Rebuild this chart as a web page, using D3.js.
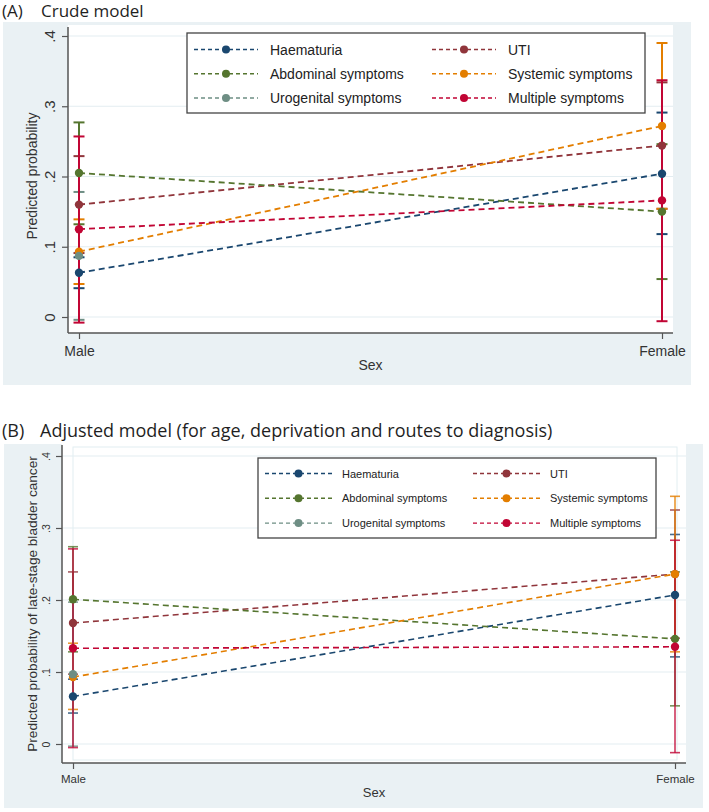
<!DOCTYPE html>
<html>
<head>
<meta charset="utf-8">
<script src="https://cdn.jsdelivr.net/npm/d3@7"></script>
<style>
  html, body { margin: 0; padding: 0; background: #ffffff; }
  svg { display: block; }
</style>
</head>
<body>
<svg id="chart" width="709" height="812"></svg>
<script>
// ---------------- DATA ----------------
const categories = ["Male", "Female"];
const seriesNames = ["Haematuria", "UTI", "Abdominal symptoms", "Systemic symptoms", "Urogenital symptoms", "Multiple symptoms"];
const yTicks = [0, 0.1, 0.2, 0.3, 0.4];
const yTickLabels = ["0", ".1", ".2", ".3", ".4"];

// Panel A: crude model  (per series: [Male, Female])
const crudeEst  = [[0.063, 0.204], [0.160, 0.244], [0.205, 0.150], [0.093, 0.272], [0.087, null], [0.125, 0.166]];
const crudeLow  = [[0.041, 0.118], [0.091, 0.154], [0.132, 0.054], [0.047, 0.154], [-0.004, null], [-0.008, -0.006]];
const crudeHigh = [[0.085, 0.291], [0.229, 0.334], [0.277, 0.246], [0.139, 0.390], [0.178, null], [0.257, 0.337]];

// Panel B: adjusted model
const adjEst  = [[0.066, 0.207], [0.168, 0.236], [0.201, 0.146], [0.093, 0.236], [0.097, null], [0.133, 0.135]];
const adjLow  = [[0.043, 0.121], [0.097, 0.147], [0.128, 0.053], [0.048, 0.128], [-0.003, null], [-0.005, -0.012]];
const adjHigh = [[0.090, 0.291], [0.239, 0.325], [0.274, 0.239], [0.140, 0.344], [0.197, null], [0.271, 0.283]];

const panelTitles = ["(A)", "(B)"];
const panelSubtitles = ["Crude model", "Adjusted model (for age, deprivation and routes to diagnosis)"];
const yTitles = ["Predicted probability", "Predicted probability of late-stage bladder cancer"];
const xTitle = "Sex";

// ---------------- STYLE ----------------
const colors = ["#1a476f", "#90353b", "#55752f", "#e37e00", "#6e8e84", "#c10534"];
const BG = "#eaf1f4";
const GRID = "#e3edf1";
const AXIS = "#555555";
const FONT = "'Liberation Sans', Arial, sans-serif";
const TITLE_FONT = "'Open Sans', sans-serif";

const svg = d3.select("#chart");

function drawPanel(cfg, est, low, high) {
  const g = svg.append("g");

  // backgrounds
  g.append("rect").attr("x", cfg.bg[0]).attr("y", cfg.bg[1]).attr("width", cfg.bg[2] - cfg.bg[0]).attr("height", cfg.bg[3] - cfg.bg[1]).attr("fill", BG);
  g.append("rect").attr("x", cfg.plot[0]).attr("y", cfg.plot[1]).attr("width", cfg.plot[2] - cfg.plot[0]).attr("height", cfg.plot[3] - cfg.plot[1]).attr("fill", "#ffffff");

  // title
  g.append("text").attr("x", cfg.titleX).attr("y", cfg.titleY)
    .attr("font-family", TITLE_FONT).attr("font-size", cfg.titleSize).attr("fill", "#1f1f1f")
    .text(cfg.tag);
  g.append("text").attr("x", cfg.titleX2).attr("y", cfg.titleY)
    .attr("font-family", TITLE_FONT).attr("font-size", cfg.titleSize).attr("fill", "#1f1f1f")
    .text(cfg.subtitle);

  const x = d3.scalePoint().domain(categories).range(cfg.xRange);
  const y = d3.scaleLinear().domain([0, 0.4]).range(cfg.yRange);

  // gridlines
  g.append("g").selectAll("line").data(yTicks).join("line")
    .attr("x1", cfg.plot[0]).attr("x2", cfg.plot[2])
    .attr("y1", d => y(d)).attr("y2", d => y(d))
    .attr("stroke", GRID).attr("stroke-width", 1.2);

  if (cfg.innerBox) {
    const b = cfg.innerBox;
    g.append("rect").attr("x", b[0]).attr("y", b[1]).attr("width", b[2] - b[0]).attr("height", b[3] - b[1])
      .attr("fill", "none").attr("stroke", "#e2eef1").attr("stroke-width", 1);
  }

  // y axis
  const yAxis = d3.axisLeft(y).tickValues(yTicks).tickFormat((d, i) => yTickLabels[i]).tickSize(cfg.tickLen).tickPadding(0);
  const ya = g.append("g").attr("transform", `translate(${cfg.plot[0]},0)`).call(yAxis);
  ya.select(".domain").remove();
  ya.selectAll(".tick line").attr("stroke", AXIS).attr("stroke-width", 1.2);
  ya.selectAll(".tick text")
    .attr("font-family", FONT).attr("font-size", cfg.tickFont).attr("fill", "#333")
    .attr("text-anchor", "middle").attr("x", null).attr("dy", null)
    .attr("transform", `translate(${cfg.yLabelX - cfg.plot[0]},0) rotate(-90)`)
    .attr("dominant-baseline", "middle");
  g.append("line").attr("x1", cfg.plot[0]).attr("x2", cfg.plot[0]).attr("y1", cfg.axisTop).attr("y2", cfg.plot[3])
    .attr("stroke", AXIS).attr("stroke-width", 1.5);

  // x axis
  const xAxis = d3.axisBottom(x).tickSize(cfg.tickLen).tickPadding(cfg.xPad);
  const xa = g.append("g").attr("transform", `translate(0,${cfg.plot[3]})`).call(xAxis);
  xa.select(".domain").remove();
  xa.selectAll(".tick line").attr("stroke", AXIS).attr("stroke-width", 1.2);
  xa.selectAll(".tick text").attr("font-family", FONT).attr("font-size", cfg.xTickFont).attr("fill", "#333");
  g.append("line").attr("x1", cfg.plot[0]).attr("x2", cfg.plot[2]).attr("y1", cfg.plot[3]).attr("y2", cfg.plot[3])
    .attr("stroke", AXIS).attr("stroke-width", 1.5);

  // axis titles
  g.append("text").attr("x", (cfg.plot[0] + cfg.plot[2]) / 2 + cfg.xTitleDx).attr("y", cfg.xTitleY)
    .attr("text-anchor", "middle").attr("font-family", FONT).attr("font-size", cfg.axisTitleFont).attr("fill", "#333")
    .text(xTitle);
  g.append("text").attr("transform", `translate(${cfg.yTitleX},${cfg.yTitleCY}) rotate(-90)`)
    .attr("text-anchor", "middle").attr("font-family", FONT).attr("font-size", cfg.yTitleFont).attr("fill", "#333")
    .text(cfg.yTitle);

  // build records
  const recs = seriesNames.map((name, s) => ({
    name, s,
    pts: categories.map((c, k) => ({ c, v: est[s][k], lo: low[s][k], hi: high[s][k] })).filter(p => p.v !== null)
  }));

  const cap = cfg.capHalf;
  // series drawn in order: CI, then connecting line, then markers
  recs.forEach(r => {
    const col = colors[r.s];
    const cg = g.append("g").attr("stroke-opacity", cfg.ciOpacity);
    r.pts.forEach(p => {
      cg.append("line").attr("x1", x(p.c)).attr("x2", x(p.c)).attr("y1", y(p.lo)).attr("y2", y(p.hi))
        .attr("stroke", col).attr("stroke-width", cfg.ciWidth);
      [p.lo, p.hi].forEach(v => {
        cg.append("line").attr("x1", x(p.c) - cap).attr("x2", x(p.c) + cap).attr("y1", y(v)).attr("y2", y(v))
          .attr("stroke", col).attr("stroke-width", cfg.ciWidth);
      });
    });
  });
  recs.forEach(r => {
    const col = colors[r.s];
    if (r.pts.length > 1) {
      g.append("path").datum(r.pts)
        .attr("d", d3.line().x(p => x(p.c)).y(p => y(p.v)))
        .attr("fill", "none").attr("stroke", col).attr("stroke-width", cfg.lineWidth)
        .attr("stroke-dasharray", cfg.dash);
    }
  });
  recs.forEach(r => {
    g.append("g").selectAll("circle").data(r.pts).join("circle")
      .attr("cx", p => x(p.c)).attr("cy", p => y(p.v)).attr("r", cfg.markerR)
      .attr("fill", colors[r.s]);
  });

  // legend
  const L = cfg.legend;
  g.append("rect").attr("x", L.x).attr("y", L.y).attr("width", L.w).attr("height", L.h)
    .attr("fill", "#ffffff").attr("stroke", "#444").attr("stroke-width", 1.3);
  seriesNames.forEach((name, i) => {
    const col = i % 2, row = Math.floor(i / 2);
    const ox = L.col0 + col * L.colStep;
    const oy = L.row0 + row * L.rowStep;
    g.append("line").attr("x1", ox).attr("x2", ox + L.lineLen).attr("y1", oy).attr("y2", oy)
      .attr("stroke", colors[i]).attr("stroke-width", cfg.lineWidth * 0.85).attr("stroke-dasharray", L.dash);
    g.append("circle").attr("cx", ox + L.lineLen / 2).attr("cy", oy).attr("r", L.markerR).attr("fill", colors[i]);
    g.append("text").attr("x", ox + L.textDx).attr("y", oy).attr("dominant-baseline", "central")
      .attr("font-family", FONT).attr("font-size", L.font).attr("fill", "#222").text(name);
  });
}

// Panel A
drawPanel({
  tag: panelTitles[0], subtitle: panelSubtitles[0], yTitle: yTitles[0],
  titleX: 2, titleX2: 41, titleY: 17, titleSize: 17,
  bg: [3, 22, 691, 385], plot: [68, 25, 673, 333], axisTop: 27,
  xRange: [79, 662], yRange: [317, 36],
  tickLen: 6, tickFont: 15, yLabelX: 51, xTickFont: 14, xPad: 7,
  xTitleDx: 0, xTitleY: 370, axisTitleFont: 14,
  yTitleX: 37, yTitleCY: 176, yTitleFont: 14,
  capHalf: 5.5, ciWidth: 2, ciOpacity: 1, lineWidth: 1.8, dash: "6,4", markerR: 4.2,
  innerBox: null,
  legend: { x: 187, y: 33, w: 458, h: 80, col0: 194, colStep: 238, row0: 49.5, rowStep: 24.2,
            lineLen: 64, textDx: 76, markerR: 4, font: 14, dash: "4,3" }
}, crudeEst, crudeLow, crudeHigh);

// Panel B
drawPanel({
  tag: panelTitles[1], subtitle: panelSubtitles[1], yTitle: yTitles[1],
  titleX: 2, titleX2: 40, titleY: 437, titleSize: 18,
  bg: [4, 444, 703, 808], plot: [62, 444, 686, 763], axisTop: 445,
  xRange: [73, 675], yRange: [744, 456],
  tickLen: 6, tickFont: 10.5, yLabelX: 47, xTickFont: 11.5, xPad: 6,
  xTitleDx: 0, xTitleY: 797, axisTitleFont: 13,
  yTitleX: 37, yTitleCY: 604, yTitleFont: 13.6,
  capHalf: 5, ciWidth: 1.6, ciOpacity: 0.8, lineWidth: 1.6, dash: "6,4", markerR: 4.2,
  innerBox: [73, 447, 677, 760],
  legend: { x: 258, y: 458, w: 398, h: 80, col0: 265, colStep: 208, row0: 473.5, rowStep: 24.8,
            lineLen: 67, textDx: 77, markerR: 4, font: 11, dash: "4,3" }
}, adjEst, adjLow, adjHigh);
</script>
</body>
</html>
